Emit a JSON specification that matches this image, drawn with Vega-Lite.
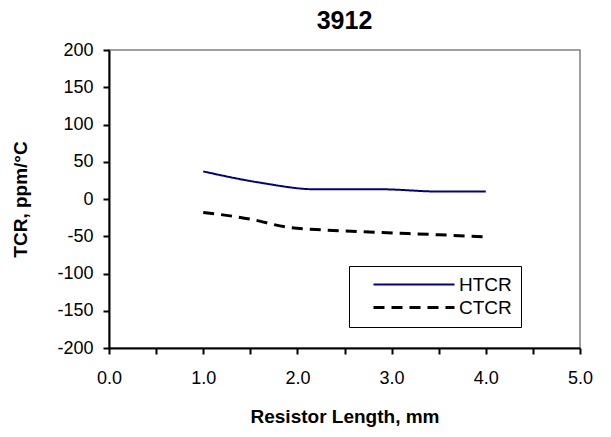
{
  "$schema": "https://vega.github.io/schema/vega-lite/v6.json",
  "width": 471,
  "height": 298,
  "autosize": "none",
  "padding": {"left": 109, "top": 50, "right": 31, "bottom": 89},
  "background": "white",
  "title": {"text": "3912", "fontSize": 25, "font": "Liberation Sans", "fontWeight": "bold", "color": "black", "offset": 7},
  "config": {
    "font": "Liberation Sans",
    "view": {"stroke": "#808080", "strokeWidth": 1.5},
    "axis": {"grid": false, "domainColor": "black", "domainWidth": 2, "tickColor": "black", "tickWidth": 2, "tickSize": 6, "labelColor": "black", "labelFont": "Liberation Sans", "labelFontSize": 18, "titleFont": "Liberation Sans", "titleFontSize": 19, "titleFontWeight": "bold", "titleColor": "black"},
    "legend": {"orient": "none", "legendX": 240, "legendY": 216, "strokeColor": "black", "fillColor": "white", "padding": 9, "symbolType": "M0,0H81", "symbolSize": 4, "symbolOffset": 6, "labelFontSize": 19, "labelFont": "Liberation Sans", "labelColor": "black", "labelOffset": 76, "rowPadding": 3, "cornerRadius": 0}
  },
  "data": {"values": [
    {"len": 1.0, "tcr": 37, "series": "HTCR"},
    {"len": 1.6, "tcr": 22, "series": "HTCR"},
    {"len": 2.2, "tcr": 13, "series": "HTCR"},
    {"len": 2.9, "tcr": 13, "series": "HTCR"},
    {"len": 3.5, "tcr": 10, "series": "HTCR"},
    {"len": 4.0, "tcr": 10, "series": "HTCR"},
    {"len": 1.0, "tcr": -18, "series": "CTCR"},
    {"len": 1.5, "tcr": -27, "series": "CTCR"},
    {"len": 1.9, "tcr": -38, "series": "CTCR"},
    {"len": 2.2, "tcr": -41, "series": "CTCR"},
    {"len": 2.9, "tcr": -45, "series": "CTCR"},
    {"len": 3.5, "tcr": -48, "series": "CTCR"},
    {"len": 4.0, "tcr": -51, "series": "CTCR"}
  ]},
  "mark": {"type": "line", "interpolate": "monotone"},
  "encoding": {
    "x": {"field": "len", "type": "quantitative", "scale": {"domain": [0, 5], "nice": false},
      "axis": {"title": "Resistor Length, mm", "values": [0, 0.5, 1, 1.5, 2, 2.5, 3, 3.5, 4, 4.5, 5], "labelExpr": "datum.value % 1 === 0 ? format(datum.value, '.1f') : ''", "labelPadding": 15, "titlePadding": 20, "labelFlush": false}},
    "y": {"field": "tcr", "type": "quantitative", "scale": {"domain": [-200, 200], "nice": false},
      "axis": {"title": "TCR, ppm/°C", "values": [-200, -150, -100, -50, 0, 50, 100, 150, 200], "labelExpr": "'' + datum.value", "labelPadding": 10, "titlePadding": 26, "labelFlush": false}},
    "color": {"field": "series", "type": "nominal", "scale": {"domain": ["HTCR", "CTCR"], "range": ["#000080", "#000000"]}, "legend": {"title": null}},
    "strokeDash": {"field": "series", "type": "nominal", "scale": {"domain": ["HTCR", "CTCR"], "range": [[1, 0], [11, 7]]}, "legend": {"title": null}},
    "strokeWidth": {"field": "series", "type": "nominal", "scale": {"domain": ["HTCR", "CTCR"], "range": [2, 3]}, "legend": {"title": null}}
  }
}
